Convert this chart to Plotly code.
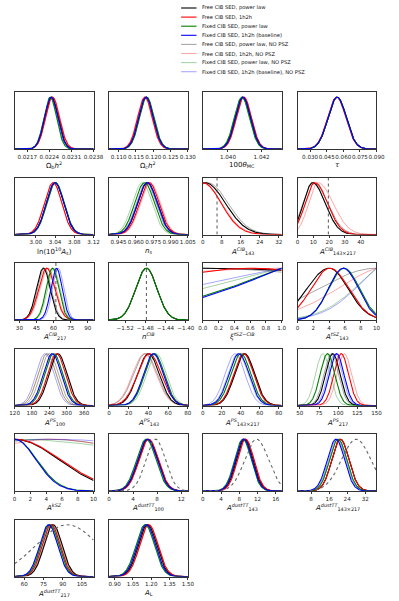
import numpy as np
import plotly.graph_objects as go

W, H = 399, 601

# ---- parameters (panels, in reading order) ----
PARAM_LABELS = [
    "Ω<sub>b</sub><i>h</i><sup>2</sup>", "Ω<sub>c</sub><i>h</i><sup>2</sup>",
    "100<i>θ</i><sub>MC</sub>", "<i>τ</i>",
    "ln(10<sup>10</sup><i>A</i><sub>s</sub>)", "<i>n</i><sub>s</sub>",
    "<i>A</i><sup><i>CIB</i></sup><sub>143</sub>", "<i>A</i><sup><i>CIB</i></sup><sub>143×217</sub>",
    "<i>A</i><sup><i>CIB</i></sup><sub>217</sub>", "<i>n</i><sup><i>CIB</i></sup>",
    "<i>ξ</i><sup><i>tSZ−CIB</i></sup>", "<i>A</i><sup><i>tSZ</i></sup><sub>143</sub>",
    "<i>A</i><sup><i>PS</i></sup><sub>100</sub>", "<i>A</i><sup><i>PS</i></sup><sub>143</sub>",
    "<i>A</i><sup><i>PS</i></sup><sub>143×217</sub>", "<i>A</i><sup><i>PS</i></sup><sub>217</sub>",
    "<i>A</i><sup><i>kSZ</i></sup>", "<i>A</i><sup><i>dustTT</i></sup><sub>100</sub>",
    "<i>A</i><sup><i>dustTT</i></sup><sub>143</sub>", "<i>A</i><sup><i>dustTT</i></sup><sub>143×217</sub>",
    "<i>A</i><sup><i>dustTT</i></sup><sub>217</sub>", "<i>A</i><sub>L</sub>",
]

X_RANGES = [
    [0.0213, 0.0238], [0.1072, 0.130], [1.0385, 1.0432], [0.0187, 0.090],
    [2.956, 3.12], [0.9367, 1.005], [0, 33.2], [0, 50],
    [25.8, 95], [-1.552, -1.396], [0, 1], [0, 10],
    [120, 393], [0, 80], [0, 83], [47, 150],
    [0, 10], [0, 13.1], [0, 17.3], [2, 37],
    [52.5, 114], [0.853, 1.5],
]

X_TICKS = [
    ["0.0217", "0.0224", "0.0231", "0.0238"], ["0.110", "0.115", "0.120", "0.125", "0.130"],
    ["1.040", "1.042"], ["0.030", "0.045", "0.060", "0.075", "0.090"],
    ["3.00", "3.04", "3.08", "3.12"], ["0.945", "0.960", "0.975", "0.990", "1.005"],
    ["0", "8", "16", "24", "32"], ["0", "10", "20", "30", "40"],
    ["30", "45", "60", "75", "90"], ["−1.52", "−1.48", "−1.44", "−1.40"],
    ["0.0", "0.2", "0.4", "0.6", "0.8", "1.0"], ["0", "2", "4", "6", "8", "10"],
    ["120", "180", "240", "300", "360"], ["0", "20", "40", "60", "80"],
    ["0", "20", "40", "60", "80"], ["50", "75", "100", "125", "150"],
    ["0", "2", "4", "6", "8", "10"], ["0", "4", "8", "12"],
    ["0", "4", "8", "12", "16"], ["8", "16", "24", "32"],
    ["60", "75", "90", "105"], ["0.90", "1.05", "1.20", "1.35", "1.50"],
]

# vertical dotted markers (None = none)
V_MARK = [None, None, None, None, None, None, 6.0, 19.5, 62.0, -1.478, None, None,
          None, None, None, None, None, None, None, None, None, None]

# dotted grey reference curve: mode / width
REF_MODE = [None] * 17 + [7.75, 11.8, 28.0, 93.5, None]
REF_SIG = [None] * 17 + [1.6, 2.6, 6.5, 24.5, None]

# ---- chains: mode, left width, right width per parameter ----
SERIES_NAMES = [
    "Free CIB SED, power law", "Free CIB SED, 1h2h",
    "Fixed CIB SED, power law", "Fixed CIB SED, 1h2h (baseline)",
    "Free CIB SED, power law, NO PSZ", "Free CIB SED, 1h2h, NO PSZ",
    "Fixed CIB SED, power law, NO PSZ", "Fixed CIB SED, 1h2h (baseline), NO PSZ",
]
SERIES_COLORS = [
    "#000000", "#ff0000", "#008000", "#0000ff",
    "rgba(0,0,0,0.35)", "rgba(255,0,0,0.35)", "rgba(0,128,0,0.35)", "rgba(0,0,255,0.35)",
]

free_pl_mode = [0.02247, 0.1180, 1.04088, 0.0545, 3.040, 0.9700, 1.0, 9.5, 51.0, -1.478, 0.0, 4.0,
                270, 40, 44, 93, 0.0, 6.5, 9.2, 21.0, 82.5, 1.17]
free_pl_lo = [0.00021, 0.0021, 0.00045, 0.0082, 0.018, 0.0085, 8.5, 5.8, 6.0, 0.021, 3.5, 2.8,
              31, 11, 10.5, 9.5, 5.6, 1.6, 1.8, 3.8, 7.0, 0.075]
free_pl_hi = [0.00021, 0.0021, 0.00045, 0.0082, 0.018, 0.0085, 8.5, 8.0, 6.0, 0.021, 3.5, 2.4,
              31, 11, 10.5, 9.5, 5.6, 1.6, 1.8, 3.8, 7.0, 0.075]

free_1h2h_mode = [0.02250, 0.1176, 1.04095, 0.0540, 3.036, 0.9715, 0.0, 11.0, 54.0, None, 0.6, 4.1,
                  265, 41, 43, 104, 0.0, 6.6, 9.4, 21.0, 81.0, 1.18]
free_1h2h_lo = [0.00022, 0.0021, 0.00045, 0.0082, 0.018, 0.0085, 7.7, 6.2, 7.0, None, 1.47, 2.4,
                31, 12, 10.5, 9.5, 5.8, 1.6, 1.8, 3.8, 7.0, 0.075]
free_1h2h_hi = [0.00022, 0.0021, 0.00045, 0.0082, 0.018, 0.0085, 7.7, 8.0, 7.0, None, 1.47, 2.4,
                31, 12, 10.5, 9.5, 5.8, 1.6, 1.8, 3.8, 7.0, 0.075]

fixed_pl_mode = [0.02243, 0.1181, 1.04083, 0.0545, 3.041, 0.9675, None, None, 59.0, -1.478, 2.5, 5.9,
                 255, 46, 40, 86, 0.0, 6.2, 8.8, 20.0, 80.0, 1.15]
fixed_pl_lo = [0.00020, 0.0021, 0.00045, 0.0082, 0.018, 0.0085, None, None, 5.5, 0.021, 1.6, 1.95,
               31, 10, 10.5, 9.5, 2.8, 1.6, 1.8, 3.8, 7.0, 0.075]
fixed_pl_hi = fixed_pl_lo

fixed_1h2h_mode = [0.02246, 0.1179, 1.04090, 0.0545, 3.040, 0.9700, None, None, 62.5, None, 2.5, 5.8,
                   250, 45, 38, 98, 0.0, 6.4, 9.0, 19.0, 79.0, 1.16]
fixed_1h2h_lo = [0.00021, 0.0021, 0.00045, 0.0082, 0.018, 0.0085, None, None, 5.0, None, 1.55, 1.9,
                 31, 10, 10.5, 9.5, 2.7, 1.6, 1.8, 3.8, 7.0, 0.075]
fixed_1h2h_hi = fixed_1h2h_lo

free_pl_nopsz_mode = [0.02247, 0.1180, 1.04088, 0.0545, 3.040, 0.9690, 2.0, 10.0, 52.0, -1.478, 0.0, 10.0,
                      240, 37, 43, 91, 4.0, 6.5, 9.2, 21.0, 82.0, 1.17]
free_pl_nopsz_lo = [0.00021, 0.0021, 0.00045, 0.0082, 0.018, 0.0085, 8.6, 6.5, 6.0, 0.021, 2.5, 7.3,
                    31, 12, 10.5, 9.5, 15, 1.6, 1.8, 3.8, 7.0, 0.075]
free_pl_nopsz_hi = [0.00021, 0.0021, 0.00045, 0.0082, 0.018, 0.0085, 8.6, 9.0, 6.0, 0.021, 2.5, 7.3,
                    31, 12, 10.5, 9.5, 15, 1.6, 1.8, 3.8, 7.0, 0.075]

free_1h2h_nopsz_mode = [0.02251, 0.1175, 1.04095, 0.0540, 3.036, 0.9725, 0.0, 13.0, 55.0, None, 1.0, 12.0,
                        232, 36, 44, 108, 5.0, 6.6, 9.4, 21.0, 81.0, 1.18]
free_1h2h_nopsz_lo = [0.00022, 0.0021, 0.00045, 0.0082, 0.018, 0.0085, 8.0, 6.0, 7.0, None, 2.85, 6.6,
                      31, 12, 10.5, 9.5, 12, 1.6, 1.8, 3.8, 7.0, 0.075]
free_1h2h_nopsz_hi = [0.00022, 0.0021, 0.00045, 0.0082, 0.018, 0.0085, 8.0, 9.5, 7.0, None, 2.85, 6.6,
                      31, 12, 10.5, 9.5, 12, 1.6, 1.8, 3.8, 7.0, 0.075]

fixed_pl_nopsz_mode = [0.02242, 0.1182, 1.04083, 0.0545, 3.041, 0.9655, None, None, 60.0, -1.478, 2.5, 13.0,
                       232, 48, 37, 80, 0.0, 6.2, 8.8, 20.0, 80.0, 1.15]
fixed_pl_nopsz_lo = [0.00020, 0.0021, 0.00045, 0.0082, 0.018, 0.0085, None, None, 5.5, 0.021, 2.0, 5.0,
                     31, 10, 10.5, 9.5, 20, 1.6, 1.8, 3.8, 7.0, 0.075]
fixed_pl_nopsz_hi = fixed_pl_nopsz_lo

fixed_1h2h_nopsz_mode = [0.02245, 0.1179, 1.04090, 0.0545, 3.040, 0.9695, None, None, 64.0, None, 2.5, 13.0,
                         225, 46, 34, 96, 5.0, 6.4, 9.0, 19.5, 79.0, 1.16]
fixed_1h2h_nopsz_lo = [0.00021, 0.0021, 0.00045, 0.0082, 0.018, 0.0085, None, None, 5.0, None, 2.3, 4.8,
                       31, 10, 10.5, 9.5, 20, 1.6, 1.8, 3.8, 7.0, 0.075]
fixed_1h2h_nopsz_hi = fixed_1h2h_nopsz_lo

CHAINS = [
    (free_pl_mode, free_pl_lo, free_pl_hi),
    (free_1h2h_mode, free_1h2h_lo, free_1h2h_hi),
    (fixed_pl_mode, fixed_pl_lo, fixed_pl_hi),
    (fixed_1h2h_mode, fixed_1h2h_lo, fixed_1h2h_hi),
    (free_pl_nopsz_mode, free_pl_nopsz_lo, free_pl_nopsz_hi),
    (free_1h2h_nopsz_mode, free_1h2h_nopsz_lo, free_1h2h_nopsz_hi),
    (fixed_pl_nopsz_mode, fixed_pl_nopsz_lo, fixed_pl_nopsz_hi),
    (fixed_1h2h_nopsz_mode, fixed_1h2h_nopsz_lo, fixed_1h2h_nopsz_hi),
]

# ---- layout geometry (pixels) ----
COL_X = [10, 108, 205.5, 304]
ROW_Y = [92, 177.5, 263, 348.5, 434, 519.5]
PW, PH = 82, 57


def marginal(x, mode, lo, hi):
    s = np.where(x < mode, lo, hi)
    y = np.exp(-0.5 * ((x - mode) / s) ** 2)
    return y / y.max()


fig = go.Figure()
annotations = []
shapes = []
layout_axes = {}

for i, label in enumerate(PARAM_LABELS):
    r, c = divmod(i, 4)
    n = i + 1
    xa, ya = f"x{n}", f"y{n}"
    x0, y0 = COL_X[c], ROW_Y[r]
    xr = X_RANGES[i]
    xs = np.linspace(xr[0], xr[1], 300)

    # light (NO PSZ) chains first, then dark on top
    for k in [4, 5, 6, 7, 0, 1, 2, 3]:
        mode, lo, hi = CHAINS[k]
        if mode[i] is None:
            continue
        fig.add_trace(go.Scatter(
            x=xs, y=marginal(xs, mode[i], lo[i], hi[i]),
            mode="lines", line=dict(color=SERIES_COLORS[k], width=1.1 if k < 4 else 1.0),
            xaxis=xa, yaxis=ya, showlegend=False, hoverinfo="skip",
        ))

    if REF_MODE[i] is not None:
        fig.add_trace(go.Scatter(
            x=xs, y=marginal(xs, REF_MODE[i], REF_SIG[i], REF_SIG[i]),
            mode="lines", line=dict(color="#666666", width=1.1, dash="dot"),
            xaxis=xa, yaxis=ya, showlegend=False, hoverinfo="skip",
        ))

    if V_MARK[i] is not None:
        shapes.append(dict(type="line", xref=xa, yref=ya, x0=V_MARK[i], x1=V_MARK[i], y0=0, y1=1.1,
                           line=dict(color="#555555", width=1, dash="dot")))

    tvals = [float(t.replace("−", "-")) for t in X_TICKS[i]]
    layout_axes[f"xaxis{n}"] = dict(
        domain=[x0 / W, (x0 + PW) / W], anchor=ya, range=xr,
        tickvals=tvals, ticktext=X_TICKS[i], tickangle=0,
        ticks="outside", ticklen=2, tickwidth=0.8,
        tickcolor="#333", tickfont=dict(size=5.6, color="#222", family="DejaVu Sans"),
        showgrid=False, zeroline=False, showline=True, mirror=True,
        linecolor="#333333", linewidth=1,
    )
    layout_axes[f"yaxis{n}"] = dict(
        domain=[1 - (y0 + PH) / H, 1 - y0 / H], anchor=xa, range=[0, 1.1],
        showticklabels=False, ticks="", showgrid=False, zeroline=False,
        showline=True, mirror=True, linecolor="#333333", linewidth=1,
    )
    annotations.append(dict(
        x=(x0 + PW / 2) / W, y=1 - (y0 + PH + 16) / H, xref="paper", yref="paper",
        text=label, showarrow=False, xanchor="center", yanchor="middle",
        font=dict(size=7, color="#111", family="DejaVu Sans"),
    ))

# ---- legend drawn by hand ----
LEG_X0, LEG_X1, LEG_TX = 183, 199, 203
for k, name in enumerate(SERIES_NAMES):
    yy = 8 + k * 9.1
    shapes.append(dict(type="line", xref="paper", yref="paper",
                       x0=LEG_X0 / W, x1=LEG_X1 / W, y0=1 - yy / H, y1=1 - yy / H,
                       line=dict(color=SERIES_COLORS[k], width=1.1)))
    annotations.append(dict(
        x=LEG_TX / W, y=1 - yy / H, xref="paper", yref="paper", text=name,
        showarrow=False, xanchor="left", yanchor="middle",
        font=dict(size=5.2, color="#111", family="DejaVu Sans"),
    ))

fig.update_layout(
    width=W, height=H, margin=dict(l=0, r=0, t=0, b=0),
    paper_bgcolor="white", plot_bgcolor="white",
    showlegend=False, annotations=annotations, shapes=shapes,
    **layout_axes,
)

fig.write_html("out.html", config={"displayModeBar": False},
               post_script="document.body.style.margin='0';")
